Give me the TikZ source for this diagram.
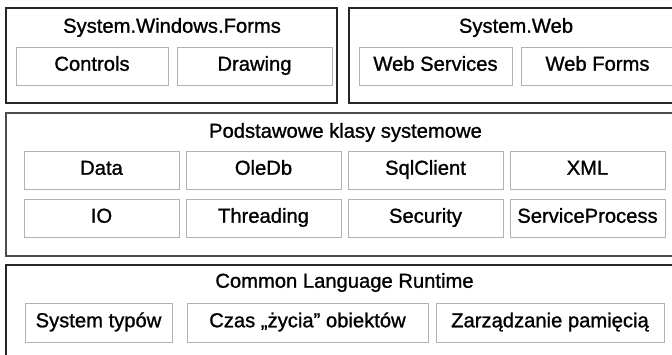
\documentclass[tikz,border=0pt]{standalone}
\usepackage{fontspec}
\setmainfont{Liberation Sans}
\newfontfamily\boxfont[FakeBold=1.1]{Liberation Sans}
\begin{document}
\begin{tikzpicture}[x=1pt,y=-1pt,
  layer/.style={draw=black!85,line width=1.5pt},
  part/.style={draw=gray!60,line width=0.9pt,inner sep=0pt,
    minimum height=38pt,text height=14pt,text depth=4.5pt,
    font=\boxfont\fontsize{20.2}{23}\selectfont},
  ttl/.style={text height=14pt,text depth=4.5pt,
    font=\boxfont\fontsize{20.2}{23}\selectfont}]
\useasboundingbox (0,0) rectangle (672,355);
\clip (0,0) rectangle (672,355);
% System.Windows.Forms
\draw[layer] (6,8) rectangle (337,103);
\node[ttl] (forms) at (172,28) {System.Windows.Forms};
\node[part,minimum width=152pt] (controls) at (92,66) {Controls};
\node[part,minimum width=155pt] (drawing) at (254.5,66) {Drawing};
% System.Web
\draw[layer] (349,8) rectangle (684,103);
\node[ttl] (web) at (516,28) {System.Web};
\node[part,minimum width=153pt] (websrv) at (435.5,66) {Web Services};
\node[part,minimum width=153pt] (webforms) at (597.5,66) {Web Forms};
% base classes
\draw[layer,draw=black!70] (6,113) rectangle (684,256);
\node[ttl] (base) at (345.5,133) {Podstawowe klasy systemowe};
\foreach \nm/\txt [count=\i from 0] in {data/Data,oledb/OleDb,sqlclient/SqlClient,xml/XML}
  \node[part,minimum width=155pt] (\nm) at (101.5+162*\i,170) {\txt};
\foreach \nm/\txt [count=\i from 0] in {io/IO,threading/Threading,security/Security,svcproc/ServiceProcess}
  \node[part,minimum width=155pt] (\nm) at (101.5+162*\i,218) {\txt};
% CLR
\draw[layer] (6,265) rectangle (684,372);
\node[ttl] (clr) at (344.5,283) {Common Language Runtime};
\node[part,minimum width=147pt,minimum height=39pt] (types) at (98.5,322.5) {System typów};
\node[part,minimum width=241pt,minimum height=39pt] (lifetime) at (307.5,322.5) {Czas „życia” obiektów};
\node[part,minimum width=228pt,minimum height=39pt] (memory) at (550,322.5) {Zarządzanie pamięcią};
\end{tikzpicture}
\end{document}
